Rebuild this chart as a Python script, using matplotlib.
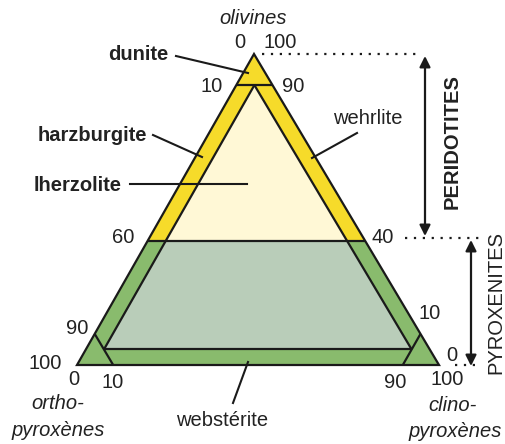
import matplotlib
matplotlib.use('Agg')
import matplotlib.pyplot as plt
from matplotlib.patches import Polygon

plt.rcParams['font.family'] = ['Liberation Sans', 'DejaVu Sans']

# ternary boundaries (fractions of olivine, ortho-px, clino-px)
OL_DUNITE = 0.90
OL_PERIDOTITE = 0.40
BAND = 0.05
CORNER = 0.90

# axis tick labels
ol_ticks = ["0", "100", "10", "90", "60", "40", "90", "10", "100", "0"]
base_ticks = ["0", "10", "90", "100"]

rock_names = ["dunite", "harzburgite", "lherzolite", "wehrlite", "webstérite"]
groups = ["PERIDOTITES", "PYROXENITES"]

YELLOW = '#F6DB2A'
PALE = '#FFF8D6'
GREEN = '#89BB6D'
GREYGREEN = '#B9CDB9'

# triangle vertices in pixel coordinates
V_OL = (254, 54)
V_OPX = (77, 365)
V_CPX = (439, 365)


def tern(ol, opx, cpx):
    x = ol * V_OL[0] + opx * V_OPX[0] + cpx * V_CPX[0]
    y = ol * V_OL[1] + opx * V_OPX[1] + cpx * V_CPX[1]
    return (x, y)


fig = plt.figure(figsize=(5.06, 4.44), dpi=100)
ax = fig.add_axes([0, 0, 1, 1])
ax.set_xlim(0, 506)
ax.set_ylim(444, 0)
ax.set_axis_off()

d, p, b = OL_DUNITE, OL_PERIDOTITE, BAND

def poly(pts, color):
    ax.add_patch(Polygon([tern(*q) for q in pts], closed=True,
                         facecolor=color, edgecolor='none', zorder=1))

# upper part (peridotites)
poly([(1, 0, 0), (p, 1 - p, 0), (p, 0, 1 - p)], YELLOW)
poly([(d, b, b), (p, 1 - p - b, b), (p, b, 1 - p - b)], PALE)
# lower part (pyroxenites)
poly([(p, 1 - p, 0), (0, 1, 0), (0, 0, 1), (p, 0, 1 - p)], GREEN)
poly([(p, 1 - p - b, b), (b, 1 - 2 * b, b), (b, b, 1 - 2 * b),
      (p, b, 1 - p - b)], GREYGREEN)

def seg(a, c, lw=1.6):
    (x1, y1), (x2, y2) = tern(*a), tern(*c)
    ax.plot([x1, x2], [y1, y2], color='#1a1a1a', lw=lw,
            solid_capstyle='butt', zorder=3)

# outer triangle
ax.add_patch(Polygon([V_OL, V_OPX, V_CPX], closed=True, fill=False,
                     edgecolor='#1a1a1a', lw=1.6, joinstyle='miter', zorder=4))
seg((d, 1 - d, 0), (d, 0, 1 - d))
seg((p, 1 - p, 0), (p, 0, 1 - p))
seg((d, b, b), (b, 1 - 2 * b, b))
seg((d, b, b), (b, b, 1 - 2 * b))
seg((b, 1 - 2 * b, b), (b, b, 1 - 2 * b))
seg((1 - CORNER, CORNER, 0), (0, CORNER, 1 - CORNER))
seg((1 - CORNER, 0, CORNER), (0, 1 - CORNER, CORNER))

fs = 14.5
k = dict(fontsize=fs, ha='center', va='center', color='#222222')

# tick labels
tick_pos = [(240, 43), (280, 42), (212, 87), (293, 86), (123, 237),
            (383, 237), (77, 328), (430, 313), (45, 363), (452, 355)]
for lbl, (x, y) in zip(ol_ticks, tick_pos):
    ax.text(x, y, lbl, **k)
for lbl, (x, y) in zip(base_ticks, [(74, 379), (113, 382), (395, 382), (447, 379)]):
    ax.text(x, y, lbl, **k)

# apex names
ax.text(253, 18, "olivines", style='italic', **k)
ax.text(58, 403, "ortho-", style='italic', **k)
ax.text(58, 430, "pyroxènes", style='italic', **k)
ax.text(453, 405, "clino-", style='italic', **k)
ax.text(455, 431, "pyroxènes", style='italic', **k)

# rock names with leader lines
name_pos = [(138, 54), (92, 135), (78, 185), (368, 118), (222, 420)]
weights = ['bold', 'bold', 'bold', 'normal', 'normal']
leaders = [((176, 56), (248, 73)), ((153, 135), (202, 157)),
           ((130, 184), (247, 184)), ((357, 133), (312, 158)),
           ((233, 403), (248, 362))]
for name, (x, y), w, ((x1, y1), (x2, y2)) in zip(rock_names, name_pos, weights, leaders):
    ax.text(x, y, name, fontweight=w, **k)
    ax.plot([x1, x2], [y1, y2], color='#1a1a1a', lw=1.5, zorder=5)

# dotted guide lines
for (x1, x2, y) in [(262, 422, 54), (405, 485, 238), (455, 480, 365)]:
    ax.plot([x1, x2], [y, y], color='#1a1a1a', lw=1.6,
            linestyle=(0, (1, 3)), zorder=2)

# group arrows
for (x, y1, y2) in [(425, 56, 236), (471, 240, 366)]:
    ax.annotate('', xy=(x, y1), xytext=(x, y2),
                arrowprops=dict(arrowstyle='<|-|>', color='#1a1a1a', lw=1.6,
                                mutation_scale=16, shrinkA=0, shrinkB=0))
ax.text(452, 142, groups[0], rotation=90, fontweight='bold', **k)
ax.text(496, 302, groups[1], rotation=90, **k)

fig.savefig('out.png', dpi=100)
